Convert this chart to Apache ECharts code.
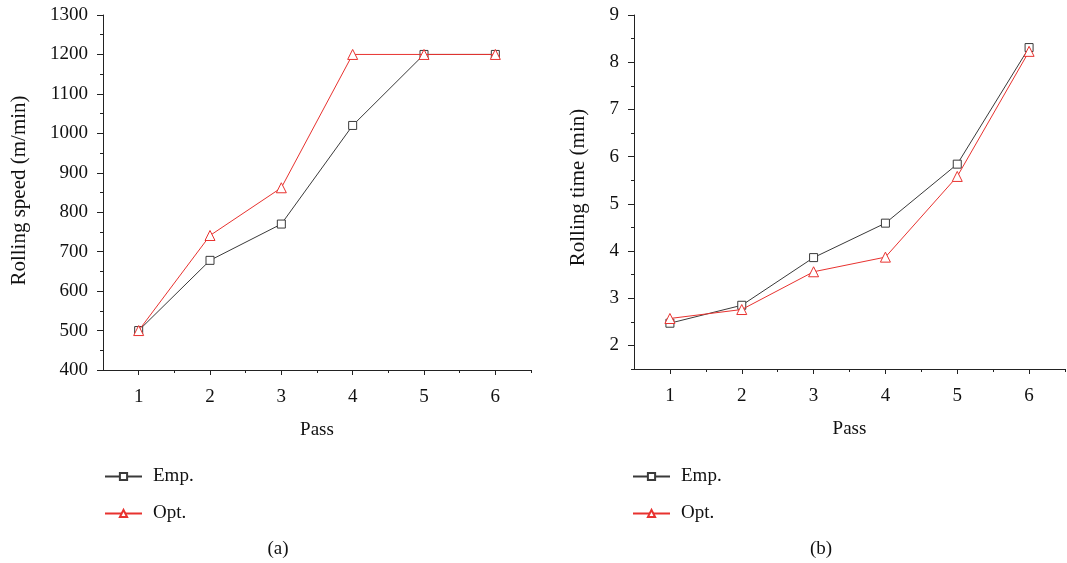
<!DOCTYPE html>
<html>
<head>
<meta charset="utf-8">
<script src="https://cdn.jsdelivr.net/npm/echarts@6/dist/echarts.min.js"></script>
<style>html,body{margin:0;padding:0;background:#fff;}#c{width:1067px;height:563px;}</style>
</head>
<body>
<div id="c"></div>
<script>
var passes = [1, 2, 3, 4, 5, 6];
var speedEmp = [500, 678, 770, 1020, 1200, 1200];
var speedOpt = [500, 741, 862, 1200, 1200, 1200];
var timeEmp = [2.47, 2.85, 3.86, 4.59, 5.84, 8.31];
var timeOpt = [2.57, 2.76, 3.56, 3.87, 5.58, 8.23];
var xMajor = [1, 2, 3, 4, 5, 6];
var xMinor = [1.5, 2.5, 3.5, 4.5, 5.5, 6.5];
var timeMajor = [2, 3, 4, 5, 6, 7, 8, 9];
var timeMinor = [1.5, 2.5, 3.5, 4.5, 5.5, 6.5, 7.5, 8.5];

var FONT = 'Liberation Serif';
var FS = 19;
var AX = '#222';
var EMP = '#3a3a3a';
var OPT = '#e8322f';

function pairs(xs, ys) { return xs.map(function (x, i) { return [x, ys[i]]; }); }
function plain(v) { return String(v); }

function xAxes(gi) {
  return [
    { gridIndex: gi, type: 'value', min: 0.5, max: 6.5, position: 'bottom',
      name: 'Pass', nameLocation: 'middle', nameGap: 51,
      nameTextStyle: { fontFamily: FONT, fontSize: FS, color: '#111' },
      axisLine: { show: true, lineStyle: { color: AX, width: 1 } },
      axisTick: { show: true, length: 5, lineStyle: { color: AX }, customValues: xMajor },
      axisLabel: { fontFamily: FONT, fontSize: FS, color: '#111', margin: 18, customValues: xMajor, formatter: plain },
      splitLine: { show: false } },
    { gridIndex: gi, type: 'value', min: 0.5, max: 6.5, position: 'bottom',
      axisLine: { show: false },
      axisTick: { show: true, length: 3, lineStyle: { color: AX }, customValues: xMinor },
      axisLabel: { show: false, customValues: xMinor },
      splitLine: { show: false } }
  ];
}

var legendText = { fontFamily: FONT, fontSize: FS, color: '#111', padding: [0, 0, 0, 6] };

var option = {
  backgroundColor: '#fff',
  animation: false,
  title: [
    { text: '(a)', left: 273, top: 535, textAlign: 'center',
      textStyle: { fontFamily: FONT, fontSize: FS, fontWeight: 'normal', color: '#111' } },
    { text: '(b)', left: 816, top: 535, textAlign: 'center',
      textStyle: { fontFamily: FONT, fontSize: FS, fontWeight: 'normal', color: '#111' } }
  ],
  legend: [
    { orient: 'vertical', left: 99, top: 462, itemWidth: 37, itemHeight: 9, itemGap: 18,
      data: ['Emp.', 'Opt.'], textStyle: legendText },
    { orient: 'vertical', left: 627, top: 462, itemWidth: 37, itemHeight: 9, itemGap: 18,
      data: ['Emp.', 'Opt.'], textStyle: legendText }
  ],
  grid: [
    { left: 103, top: 15, width: 428, height: 355 },
    { left: 634, top: 15, width: 431, height: 354 }
  ],
  xAxis: xAxes(0).concat(xAxes(1)),
  yAxis: [
    { gridIndex: 0, type: 'value', min: 400, max: 1300, interval: 100,
      name: 'Rolling speed (m/min)', nameLocation: 'middle', nameGap: 73,
      nameTextStyle: { fontFamily: FONT, fontSize: 21, color: '#111', padding: [0, 0, 0, 4] },
      axisLine: { show: true, lineStyle: { color: AX, width: 1 } },
      axisTick: { show: true, length: 6, lineStyle: { color: AX } },
      minorTick: { show: true, splitNumber: 2, length: 3, lineStyle: { color: AX } },
      axisLabel: { fontFamily: FONT, fontSize: FS, color: '#111', margin: 15, formatter: plain },
      splitLine: { show: false }, minorSplitLine: { show: false } },
    { gridIndex: 1, type: 'value', min: 1.5, max: 9,
      name: 'Rolling time (min)', nameLocation: 'middle', nameGap: 45,
      nameTextStyle: { fontFamily: FONT, fontSize: 21, color: '#111', padding: [0, 0, 0, 9] },
      axisLine: { show: true, lineStyle: { color: AX, width: 1 } },
      axisTick: { show: true, length: 6, lineStyle: { color: AX }, customValues: timeMajor },
      axisLabel: { fontFamily: FONT, fontSize: FS, color: '#111', margin: 15, customValues: timeMajor, formatter: plain },
      splitLine: { show: false } },
    { gridIndex: 1, type: 'value', min: 1.5, max: 9, position: 'left',
      axisLine: { show: false },
      axisTick: { show: true, length: 3, lineStyle: { color: AX }, customValues: timeMinor },
      axisLabel: { show: false, customValues: timeMinor },
      splitLine: { show: false } }
  ],
  series: [
    { name: 'Emp.', type: 'line', xAxisIndex: 0, yAxisIndex: 0, data: pairs(passes, speedEmp),
      symbol: 'rect', symbolSize: 8, z: 3,
      lineStyle: { color: EMP, width: 1 }, itemStyle: { color: '#fff', borderColor: EMP, borderWidth: 1 } },
    { name: 'Opt.', type: 'line', xAxisIndex: 0, yAxisIndex: 0, data: pairs(passes, speedOpt),
      symbol: 'triangle', symbolSize: 10, z: 4,
      lineStyle: { color: OPT, width: 1 }, itemStyle: { color: '#fff', borderColor: OPT, borderWidth: 1 } },
    { name: 'Emp.', type: 'line', xAxisIndex: 2, yAxisIndex: 1, data: pairs(passes, timeEmp),
      symbol: 'rect', symbolSize: 8, z: 3,
      lineStyle: { color: EMP, width: 1 }, itemStyle: { color: '#fff', borderColor: EMP, borderWidth: 1 } },
    { name: 'Opt.', type: 'line', xAxisIndex: 2, yAxisIndex: 1, data: pairs(passes, timeOpt),
      symbol: 'triangle', symbolSize: 10, z: 4,
      lineStyle: { color: OPT, width: 1 }, itemStyle: { color: '#fff', borderColor: OPT, borderWidth: 1 } }
  ]
};
var chart = echarts.init(document.getElementById('c'), null, { renderer: 'canvas' });
chart.setOption(option);
</script>
</body>
</html>
